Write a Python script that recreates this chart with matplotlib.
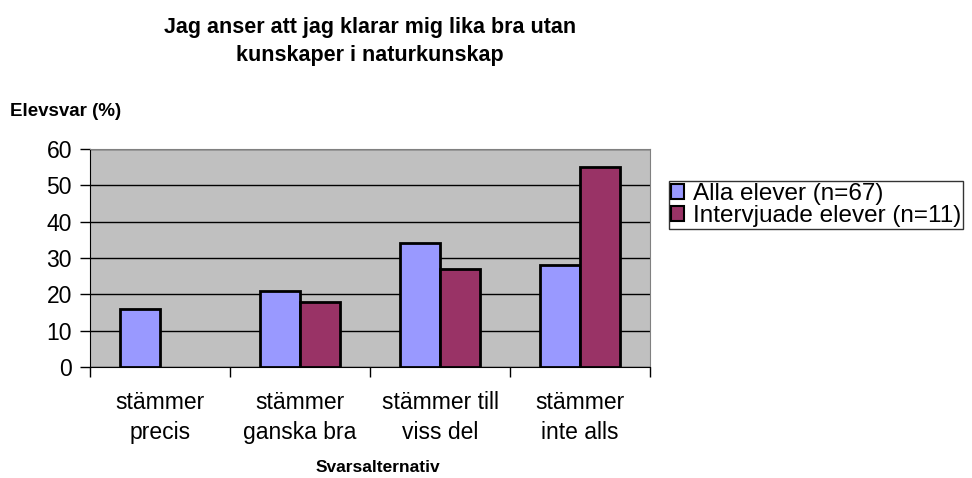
import numpy as np
import matplotlib.pyplot as plt
from matplotlib.patches import Patch

categories = ['stämmer\nprecis', 'stämmer\nganska bra', 'stämmer till\nviss del', 'stämmer\ninte alls']
alla = [16, 21, 34, 28]
intervjuade = [0, 18, 27, 55]
series_names = ['Alla elever (n=67)', 'Intervjuade elever (n=11)']
colors = ['#9999FF', '#993366']

plt.rcParams['font.family'] = ['Liberation Sans', 'DejaVu Sans']

fig = plt.figure(figsize=(9.72, 4.78), dpi=100)
ax = fig.add_axes([90 / 972, 1 - 367 / 478, 560 / 972, 218 / 478])
ax.set_facecolor('#C0C0C0')

x = np.arange(len(categories))
w = 40 / 140
# zero values get no bar (Excel draws nothing there)
h1 = [v if v > 0 else np.nan for v in alla]
h2 = [v if v > 0 else np.nan for v in intervjuade]
ax.bar(x - w / 2, h1, w, color=colors[0], edgecolor='black', linewidth=2, zorder=3)
ax.bar(x + w / 2, h2, w, color=colors[1], edgecolor='black', linewidth=2, zorder=3)

ax.set_xlim(-0.5, len(categories) - 0.5)
ax.set_ylim(0, 60)
ax.set_yticks(range(0, 61, 10))
ax.yaxis.grid(True, color='black', linewidth=1)
ax.set_axisbelow(True)
ax.tick_params(axis='y', labelsize=16.5, length=7, width=1, direction='out', pad=6)

ax.set_xticks(x)
ax.set_xticklabels(categories, fontsize=16.5, linespacing=1.4)
ax.tick_params(axis='x', length=0, pad=17)
ax.set_xticks(np.arange(-0.5, len(categories)), minor=True)
ax.tick_params(axis='x', which='minor', length=7, width=1, direction='out')

for s in ['top', 'right']:
    ax.spines[s].set_color('#808080')
for s in ['left', 'bottom']:
    ax.spines[s].set_color('black')

fig.text(370 / 972, 1 - 27 / 478, 'Jag anser att jag klarar mig lika bra utan', ha='center', va='center',
         fontsize=15.5, fontweight='bold')
fig.text(370 / 972, 1 - 55 / 478, 'kunskaper i naturkunskap', ha='center', va='center',
         fontsize=15.5, fontweight='bold')
fig.text(10 / 972, 1 - 111 / 478, 'Elevsvar (%)', ha='left', va='center', fontsize=13.5, fontweight='bold')
fig.text(378 / 972, 1 - 468 / 478, 'Svarsalternativ', ha='center', va='center', fontsize=12.5, fontweight='bold')

handles = [Patch(facecolor=c, edgecolor='black', linewidth=1.5) for c in colors]
leg = fig.legend(handles, series_names, loc='upper left', bbox_to_anchor=(669 / 972, 1 - 181 / 478),
                 fontsize=17.5, frameon=True, fancybox=False, edgecolor='black', borderpad=0.08,
                 handlelength=0.55, handleheight=0.55, handletextpad=0.35, labelspacing=0.0, borderaxespad=0)
leg.get_frame().set_linewidth(1)

fig.savefig('out.png', dpi=100)
